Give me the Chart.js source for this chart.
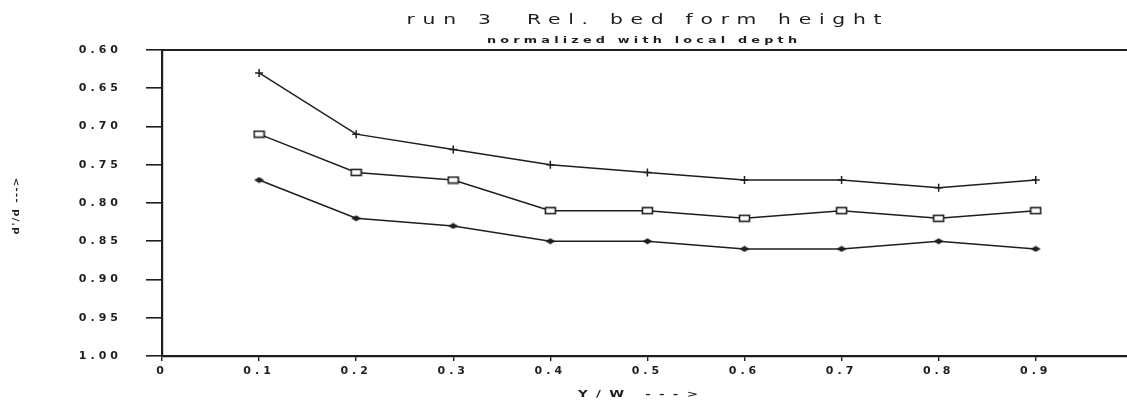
<!DOCTYPE html>
<html>
<head>
<meta charset="utf-8">
<script src="https://cdn.jsdelivr.net/npm/chart.js@4"></script>
<style>
  html, body { margin: 0; padding: 0; background: #ffffff; }
  canvas { display: block; }
</style>
</head>
<body>
<canvas id="c" width="1127" height="402"></canvas>
<script>
// Relative distance across the flume (Y/W)
const positions = [0.1, 0.2, 0.3, 0.4, 0.5, 0.6, 0.7, 0.8, 0.9];
// d'/d for the three curves
const upperCurve  = [0.63, 0.71, 0.73, 0.75, 0.76, 0.77, 0.77, 0.78, 0.77];
const middleCurve = [0.71, 0.76, 0.77, 0.81, 0.81, 0.82, 0.81, 0.82, 0.81];
const lowerCurve  = [0.77, 0.82, 0.83, 0.85, 0.85, 0.86, 0.86, 0.85, 0.86];
// Axis tick labels
const xTicks = [0, 0.1, 0.2, 0.3, 0.4, 0.5, 0.6, 0.7, 0.8, 0.9];
const yTicks = [0.60, 0.65, 0.70, 0.75, 0.80, 0.85, 0.90, 0.95, 1.00];

const ink = '#1e1e1e';

// Marker images: open rectangle and flat filled diamond
function rectMarker() {
  const c = document.createElement('canvas');
  c.width = 13; c.height = 9;
  const g = c.getContext('2d');
  g.fillStyle = '#fff';
  g.fillRect(1, 1, 11, 7);
  g.strokeStyle = ink; g.lineWidth = 1.6;
  g.strokeRect(1.5, 1.5, 10, 6);
  return c;
}
function diamondMarker() {
  const c = document.createElement('canvas');
  c.width = 11; c.height = 7;
  const g = c.getContext('2d');
  g.fillStyle = ink;
  g.beginPath();
  g.moveTo(0.5, 3.5); g.lineTo(5.5, 0.5); g.lineTo(10.5, 3.5); g.lineTo(5.5, 6.5);
  g.closePath(); g.fill();
  return c;
}

const pts = arr => positions.map((x, i) => ({ x, y: arr[i] }));

// Plotter-style text: glyphs widened by `stretch`, spaced out to fill `width`
function plotterText(ctx, text, cx, cy, width, font, stretch) {
  ctx.save();
  ctx.font = font;
  ctx.letterSpacing = '0px';
  const natural = ctx.measureText(text).width;
  const sp = (width - natural * stretch) / (text.length - 1);
  ctx.translate(cx - width / 2, cy);
  ctx.scale(stretch, 1);
  ctx.letterSpacing = (sp / stretch) + 'px';
  ctx.textAlign = 'left';
  ctx.textBaseline = 'middle';
  ctx.fillText(text, 0, 0);
  ctx.restore();
}

const framePlugin = {
  id: 'frame',
  beforeDraw(chart) {
    chart.ctx.letterSpacing = '4px';
  },
  afterDraw(chart) {
    const ctx = chart.ctx;
    const a = chart.chartArea;
    ctx.save();
    ctx.letterSpacing = '0px';
    // top border line
    ctx.strokeStyle = ink;
    ctx.lineWidth = 2.2;
    ctx.beginPath();
    ctx.moveTo(a.left - 1, a.top);
    ctx.lineTo(chart.width, a.top);
    ctx.stroke();
    ctx.fillStyle = ink;
    plotterText(ctx, 'run 3  Rel. bed form height', 644, 20, 475, '14px "DejaVu Sans"', 1.45);
    plotterText(ctx, 'normalized with local depth', 642, 41, 310, 'bold 8px "DejaVu Sans"', 1.6);
    plotterText(ctx, 'Y/W --->', 638, 395, 120, 'bold 9px "DejaVu Sans"', 1.5);
    ctx.translate(17, 206);
    ctx.rotate(-Math.PI / 2);
    plotterText(ctx, "d'/d --->", 0, 0, 57, 'bold 8px "DejaVu Sans"', 1.3);
    ctx.restore();
  }
};

new Chart(document.getElementById('c'), {
  type: 'line',
  data: {
    datasets: [
      {
        data: pts(upperCurve),
        borderColor: ink, borderWidth: 1.5,
        pointStyle: 'cross', pointRadius: 4, pointBorderWidth: 1.5,
        pointBorderColor: ink, pointBackgroundColor: ink
      },
      {
        data: pts(middleCurve),
        borderColor: ink, borderWidth: 1.5,
        pointStyle: rectMarker(), pointRadius: 5
      },
      {
        data: pts(lowerCurve),
        borderColor: ink, borderWidth: 1.5,
        pointStyle: diamondMarker(), pointRadius: 5
      }
    ]
  },
  options: {
    responsive: false,
    animation: false,
    devicePixelRatio: 1,
    layout: { autoPadding: false, padding: { top: 50, right: 0, left: 0, bottom: 0 } },
    plugins: {
      legend: { display: false },
      title: { display: false },
      tooltip: { enabled: false }
    },
    scales: {
      x: {
        type: 'linear',
        min: 0,
        max: 0.994,
        afterBuildTicks(scale) { scale.ticks = xTicks.map(v => ({ value: v })); },
        afterFit(scale) { scale.height = 46; scale.paddingRight = 0; },
        border: { display: true, color: ink, width: 2.2 },
        grid: { drawOnChartArea: false, drawTicks: true, tickLength: 5, color: ink, lineWidth: 1.4 },
        ticks: {
          color: ink,
          padding: 4,
          maxRotation: 0,
          font: { family: 'DejaVu Sans', size: 11, weight: 'bold' },
          callback: v => (v === 0 ? '0' : v.toFixed(1))
        }
      },
      y: {
        type: 'linear',
        reverse: true,
        min: 0.6,
        max: 1.0,
        afterBuildTicks(scale) { scale.ticks = yTicks.map(v => ({ value: v })); },
        afterFit(scale) { scale.width = 162; },
        border: { display: true, color: ink, width: 2.2 },
        grid: { drawOnChartArea: false, drawTicks: true, tickLength: 16, color: ink, lineWidth: 1.6 },
        ticks: {
          color: ink,
          padding: 24,
          font: { family: 'DejaVu Sans', size: 11, weight: 'bold' },
          callback: v => v.toFixed(2)
        }
      }
    }
  },
  plugins: [framePlugin]
});
</script>
</body>
</html>
